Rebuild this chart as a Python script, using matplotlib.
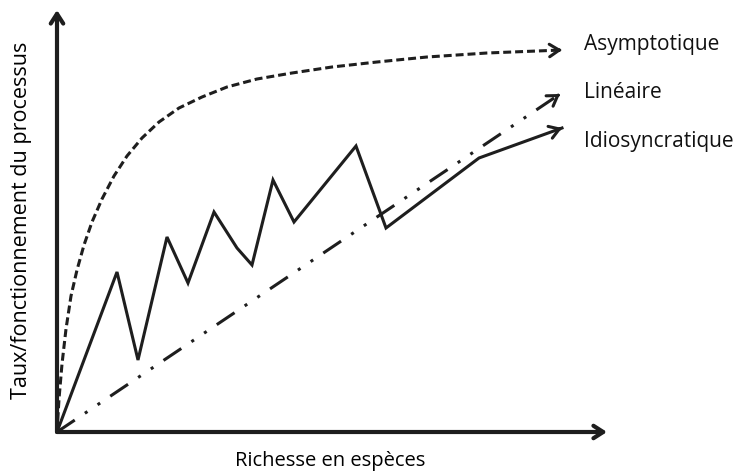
import matplotlib.pyplot as plt

# courbes (unites arbitraires, origine au coin des axes)
asym_x = [0, 2, 5, 9, 14, 20, 27, 35, 45, 57, 70, 85, 102, 122, 145, 170, 200, 235, 275, 320, 370, 430, 505]
asym_y = [0, 33, 68, 103, 136, 162, 187, 210, 233, 256, 276, 294, 310, 324, 335, 345, 353, 359, 365, 370, 375, 379, 382]

lin_x = [0, 503]
lin_y = [0, 338]

idio_x = [0, 60, 81, 110, 131, 157, 180, 195, 216, 237, 299, 329, 422, 505]
idio_y = [0, 160, 72, 195, 149, 220, 184, 167, 252, 210, 286, 204, 274, 304]

noms = ["Asymptotique", "Linéaire", "Idiosyncratique"]

plt.rcParams['font.family'] = ['Open Sans', 'DejaVu Sans']

fig = plt.figure(figsize=(7.45, 4.73), dpi=100)
ax = fig.add_axes([57 / 745, 41 / 473, 550 / 745, 422 / 473])
ax.set_xlim(0, 550)
ax.set_ylim(0, 422)
ax.axis('off')

lw = 2.2
noir = '#1e1e1e'
fleche = dict(arrowstyle='->,head_length=0.7,head_width=0.45', lw=lw, color=noir,
              shrinkA=0, shrinkB=0)

def pointe(x, y):
    # seulement la tete de fleche, orientee comme le dernier segment
    dx, dy = x[-1] - x[-2], y[-1] - y[-2]
    n = (dx ** 2 + dy ** 2) ** 0.5
    ax.annotate('', xy=(x[-1], y[-1]), xytext=(x[-1] - 3 * dx / n, y[-1] - 3 * dy / n),
                arrowprops=fleche)

# axes avec fleches
ax.annotate('', xy=(550, 0), xytext=(0, 0), arrowprops=dict(fleche, lw=3), annotation_clip=False)
ax.annotate('', xy=(0, 422), xytext=(0, 0), arrowprops=dict(fleche, lw=3), annotation_clip=False)

# courbes
ax.plot(asym_x, asym_y, color=noir, lw=lw, linestyle=(0, (2.6, 1.3)))
pointe(asym_x, asym_y)

ax.plot(lin_x, lin_y, color=noir, lw=lw, linestyle=(0, (7, 4, 1, 4, 1, 4)))
pointe(lin_x, lin_y)

ax.plot(idio_x, idio_y, color=noir, lw=lw, solid_joinstyle='miter')
pointe(idio_x, idio_y)

for nom, yy in zip(noms, [387, 340, 290]):
    ax.text(527, yy, nom, fontsize=15, va='center', ha='left', color='#111111')

fig.text(330 / 745, 1 - 461 / 473, "Richesse en espèces", fontsize=14.5, ha='center', va='center')
fig.text(22 / 745, 1 - 220 / 473, "Taux/fonctionnement du processus", fontsize=15.5,
         ha='center', va='center', rotation=90)

fig.savefig("out.png", dpi=100)
